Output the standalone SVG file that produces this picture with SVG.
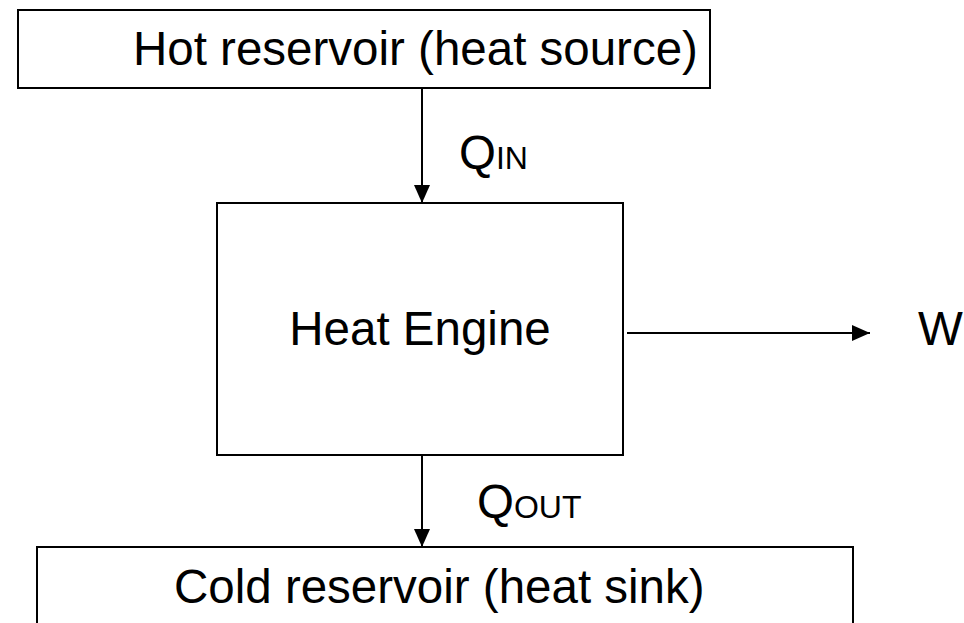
<svg xmlns="http://www.w3.org/2000/svg" width="964" height="623" viewBox="0 0 964 623">
<style>
.box{fill:#fff;stroke:#000;stroke-width:2}
.t{font-family:"Liberation Sans",Arial,sans-serif;font-size:47.5px;fill:#000}
.sub{font-size:32px}
.c{stroke:#000;stroke-width:2;fill:none}
</style>
<defs>
<marker id="ah" markerUnits="userSpaceOnUse" markerWidth="18" markerHeight="18" viewBox="0 0 18 18" refX="18" refY="9" orient="auto">
<path d="M0,1 L18,9 L0,17 Z" fill="#000"/>
</marker>
</defs>
<rect width="964" height="623" fill="#fff"/>
<g id="hot">
<rect class="box" x="18" y="10" width="692" height="78"/>
<text class="t" x="133" y="65">Hot reservoir (heat source)</text>
</g>
<g id="engine">
<rect class="box" x="217" y="203" width="406" height="252"/>
<text class="t" x="420" y="345" text-anchor="middle">Heat Engine</text>
</g>
<g id="cold">
<rect class="box" x="37" y="547" width="816" height="90"/>
<text class="t" x="174" y="603">Cold reservoir (heat sink)</text>
</g>
<g id="w">
<text class="t" x="918" y="345">W</text>
</g>
<g id="connectors">
<line class="c" x1="422" y1="88" x2="422" y2="203" marker-end="url(#ah)"/>
<line class="c" x1="627" y1="333" x2="870" y2="333" marker-end="url(#ah)"/>
<line class="c" x1="422" y1="455" x2="422" y2="547" marker-end="url(#ah)"/>
</g>
<g id="labels">
<text class="t" x="459" y="169">Q<tspan class="sub">IN</tspan></text>
<text class="t" x="477" y="518">Q<tspan class="sub">OUT</tspan></text>
</g>
</svg>
